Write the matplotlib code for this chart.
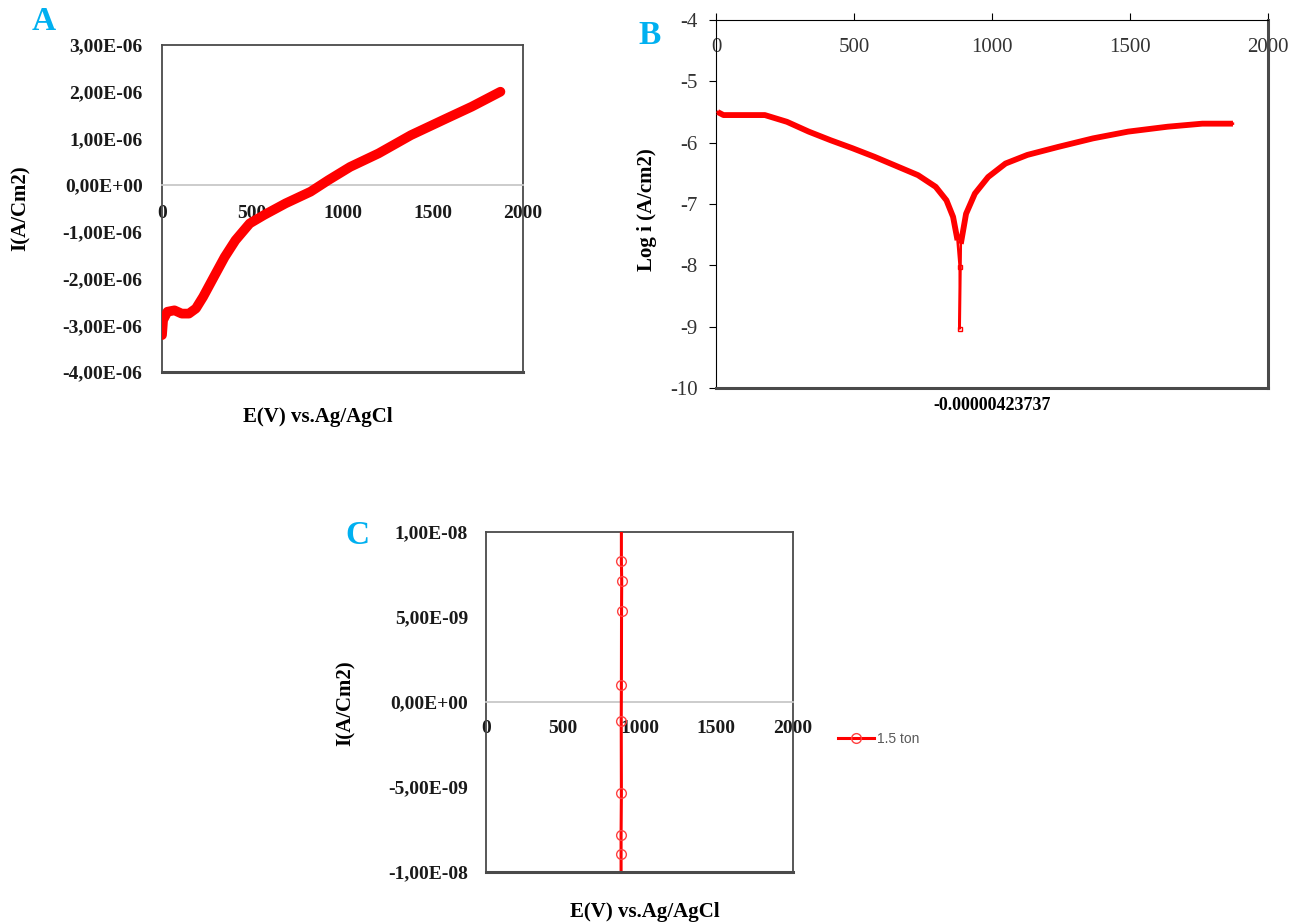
import numpy as np
import matplotlib
matplotlib.use("Agg")
import matplotlib.pyplot as plt

plt.rcParams["axes.unicode_minus"] = False

# ---------------- data ----------------
# Panel A: current density vs potential
a_potential = [0, 6, 30, 69, 109, 149, 188, 228, 288, 347, 407, 486, 565, 685,
               823, 923, 1042, 1200, 1379, 1577, 1716, 1875]
a_current = [-3.21e-6, -2.89e-6, -2.71e-6, -2.68e-6, -2.75e-6, -2.75e-6, -2.64e-6,
             -2.39e-6, -1.96e-6, -1.54e-6, -1.18e-6, -0.82e-6, -0.64e-6, -0.39e-6,
             -0.14e-6, 0.11e-6, 0.39e-6, 0.68e-6, 1.07e-6, 1.43e-6, 1.68e-6, 2.00e-6]

# Panel B: Tafel plot (log current density)
b_potential = [6, 27, 98, 177, 257, 336, 415, 494, 574, 653, 732, 796, 835, 859,
               875, 883, 883, 887, 906, 938, 986, 1049, 1128, 1239, 1366, 1493,
               1636, 1762, 1873]
b_logi = [-5.50, -5.55, -5.55, -5.55, -5.66, -5.82, -5.96, -6.09, -6.23, -6.38,
          -6.53, -6.72, -6.94, -7.21, -7.59, -8.03, -9.03, -7.65, -7.16, -6.83,
          -6.56, -6.34, -6.20, -6.07, -5.93, -5.82, -5.74, -5.69, -5.69]
b_xlabel = "-0.00000423737"

# Panel C: 1.5 ton sample
c_potential = [882, 882, 884, 883, 882, 881, 882, 880, 880, 880]
c_current = [1.2e-8, 8.31e-9, 7.13e-9, 5.35e-9, 1.02e-9, -1.14e-9, -5.37e-9,
             -7.83e-9, -8.92e-9, -1.2e-8]
c_series = "1.5 ton"

a_yticks = [-4e-6, -3e-6, -2e-6, -1e-6, 0, 1e-6, 2e-6, 3e-6]
c_yticks = [-1e-8, -5e-9, 0, 5e-9, 1e-8]
b_yticks = [-10, -9, -8, -7, -6, -5, -4]
x_ticks = [0, 500, 1000, 1500, 2000]

# ---------------- style ----------------
W, H = 1306, 924
RED = "#ff0000"
BLUE = "#00b0f0"
SERIF = "Liberation Serif"
FRAME = "#4a4a4a"
ZERO = "#c8c8c8"


def excel_sci(v):
    """Format like 3,00E-06 with a comma decimal separator."""
    if v == 0:
        return "0,00E+00"
    s = f"{v:.2E}"
    mant, exp = s.split("E")
    sign = exp[0]
    digits = exp[1:].zfill(2)
    return f"{mant.replace('.', ',')}E{sign}{digits}"


def box(l, t, r, b):
    return [l / W, 1 - b / H, (r - l) / W, (b - t) / H]


def ftext(x, y, s, **kw):
    fig.text(x / W, 1 - y / H, s, ha="center", va="center", **kw)


fig = plt.figure(figsize=(W / 100, H / 100), dpi=100)

# ---------------- Panel A ----------------
axA = fig.add_axes(box(162, 45, 523, 372))
axA.plot(a_potential, a_current, color=RED, lw=7, solid_capstyle="round",
         solid_joinstyle="round", zorder=3)
axA.set_xlim(0, 2000)
axA.set_ylim(-4e-6, 3e-6)
axA.set_yticks(a_yticks)
axA.set_yticklabels([excel_sci(v) for v in a_yticks])
axA.set_xticks(x_ticks)
axA.spines["bottom"].set_position(("data", 0))
axA.spines["bottom"].set_color(ZERO)
axA.spines["bottom"].set_linewidth(1.3)
for s in ("left", "right", "top"):
    axA.spines[s].set_color(FRAME)
    axA.spines[s].set_linewidth(1.3)
axA.plot([0, 1], [0, 0], transform=axA.transAxes, color=FRAME, lw=2.2,
         clip_on=False, zorder=5)
axA.tick_params(axis="y", length=0, pad=14)
axA.tick_params(axis="x", length=0, pad=14)
for lab in axA.get_xticklabels() + axA.get_yticklabels():
    lab.set_fontfamily(SERIF)
    lab.set_fontweight("bold")
    lab.set_fontsize(14)
    lab.set_color("#1a1a1a")

ftext(21, 208, "I(A/Cm2)", rotation=90, fontfamily=SERIF, fontweight="bold",
      fontsize=15)
ftext(318, 417, "E(V) vs.Ag/AgCl", fontfamily=SERIF, fontweight="bold",
      fontsize=15)
ftext(44, 22, "A", fontfamily=SERIF, fontweight="bold", fontsize=24, color=BLUE)

# ---------------- Panel B ----------------
axB = fig.add_axes(box(716, 20, 1268, 388))
b_x = np.array(b_potential, dtype=float)
b_y = np.array(b_logi, dtype=float)
deep = b_y < -7.7
axB.plot(b_x, b_y, color=RED, lw=1.8, marker="s", ms=3.5, mfc="none",
         mec=RED, mew=1, markevery=list(deep), zorder=3)
thick = np.ma.masked_where(deep, b_y)
axB.plot(b_x, thick, color=RED, lw=4.2, solid_capstyle="butt",
         solid_joinstyle="round", zorder=4)
axB.set_xlim(0, 2000)
axB.set_ylim(-10, -4)
axB.set_yticks(b_yticks)
axB.set_xticks(x_ticks)
# horizontal axis crosses at the top of the plot
axB.spines["bottom"].set_position(("axes", 1))
axB.spines["bottom"].set_color("black")
axB.spines["top"].set_position(("axes", 0))
axB.spines["top"].set_color(FRAME)
axB.spines["top"].set_linewidth(2.2)
axB.spines["right"].set_color(FRAME)
axB.spines["right"].set_linewidth(2.2)
axB.spines["left"].set_color("black")
axB.tick_params(axis="x", direction="in", length=5, pad=13)
axB.tick_params(axis="y", direction="out", length=5, pad=8)
for lab in axB.get_xticklabels() + axB.get_yticklabels():
    lab.set_fontfamily(SERIF)
    lab.set_fontsize(15)
    lab.set_color("#333333")
ftext(992, 405, b_xlabel, fontfamily=SERIF, fontweight="bold", fontsize=13)
ftext(647, 210, "Log i (A/cm2)", rotation=90, fontfamily=SERIF,
      fontweight="bold", fontsize=15)
ftext(650, 35, "B", fontfamily=SERIF, fontweight="bold", fontsize=24, color=BLUE)

# ---------------- Panel C ----------------
axC = fig.add_axes(box(486, 532, 793, 872))
axC.plot(c_potential, c_current, color=RED, lw=2.2, marker="o", ms=7,
         mfc="none", mec="#ff4040", mew=1.0, label=c_series, zorder=3)
axC.set_xlim(0, 2000)
axC.set_ylim(-1e-8, 1e-8)
axC.set_yticks(c_yticks)
axC.set_yticklabels([excel_sci(v) for v in c_yticks])
axC.set_xticks(x_ticks)
axC.spines["bottom"].set_position(("data", 0))
axC.spines["bottom"].set_color(ZERO)
axC.spines["bottom"].set_linewidth(1.3)
for s in ("left", "right", "top"):
    axC.spines[s].set_color(FRAME)
    axC.spines[s].set_linewidth(1.3)
axC.plot([0, 1], [0, 0], transform=axC.transAxes, color=FRAME, lw=2.2,
         clip_on=False, zorder=5)
axC.tick_params(axis="y", length=0, pad=13)
axC.tick_params(axis="x", length=0, pad=13)
for lab in axC.get_xticklabels() + axC.get_yticklabels():
    lab.set_fontfamily(SERIF)
    lab.set_fontweight("bold")
    lab.set_fontsize(14)
    lab.set_color("#1a1a1a")
leg = axC.legend(loc="center left", bbox_to_anchor=((838 - 486) / (793 - 486),
                 (872 - 739) / (872 - 532)), frameon=False, handlelength=2.6,
                 handletextpad=0.2, borderpad=0, borderaxespad=0,
                 prop={"family": "Liberation Sans", "size": 10})
for t in leg.get_texts():
    t.set_color("#595959")

ftext(346, 703, "I(A/Cm2)", rotation=90, fontfamily=SERIF, fontweight="bold",
      fontsize=15)
ftext(645, 912, "E(V) vs.Ag/AgCl", fontfamily=SERIF, fontweight="bold",
      fontsize=15)
ftext(357, 536, "C", fontfamily=SERIF, fontweight="bold", fontsize=24, color=BLUE)

fig.savefig("out.png", dpi=100, facecolor="white")
